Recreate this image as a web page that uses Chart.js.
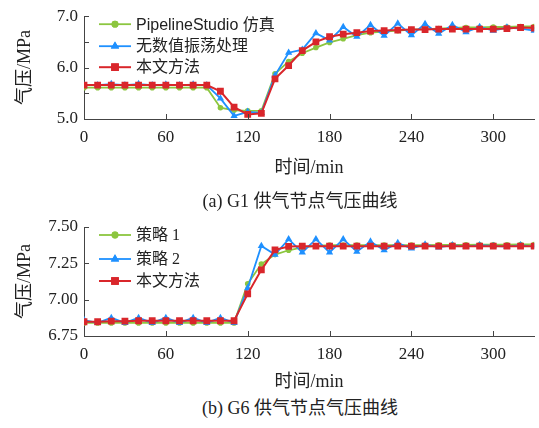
<!DOCTYPE html>
<html>
<head>
<meta charset="utf-8">
<script src="https://cdn.jsdelivr.net/npm/chart.js@4/dist/chart.umd.min.js"></script>
<style>
  html, body { margin: 0; padding: 0; background: #fff; }
  body { width: 539px; height: 428px; position: relative; overflow: hidden; }
  .wrap { position: absolute; left: 0; width: 539px; }
  .cap { position: absolute; left: 0; width: 600px; text-align: center;
         font: 18px 'Liberation Serif', 'Noto Sans CJK SC', serif; color: #222; line-height: 20px; }
</style>
</head>
<body>
<div class="wrap" style="top:0;height:182px;"><canvas id="c1" width="539" height="182"></canvas></div>
<div class="wrap" style="top:210px;height:186px;"><canvas id="c2" width="539" height="186"></canvas></div>
<div class="cap" style="top:191px;">(a) G1 供气节点气压曲线</div>
<div class="cap" style="top:398px;">(b) G6 供气节点气压曲线</div>
<script>
// ---------- data ----------
const times = [0,10,20,30,40,50,60,70,80,90,100,110,120,130,140,150,160,170,180,190,200,210,220,230,240,250,260,270,280,290,300,310,320,330];

// (a) G1
const g1Labels = ['PipelineStudio 仿真', '无数值振荡处理', '本文方法'];
const g1Pipeline = [5.61,5.61,5.61,5.61,5.61,5.61,5.61,5.61,5.61,5.61,5.22,5.17,5.16,5.16,5.88,6.12,6.28,6.39,6.49,6.56,6.63,6.68,6.70,6.72,6.74,6.75,6.76,6.77,6.78,6.78,6.79,6.79,6.80,6.80];
const g1NoOsc    = [5.66,5.66,5.68,5.66,5.68,5.66,5.67,5.66,5.67,5.66,5.40,5.06,5.14,5.12,5.85,6.29,6.35,6.67,6.53,6.79,6.60,6.83,6.62,6.86,6.63,6.85,6.66,6.83,6.69,6.79,6.72,6.78,6.76,6.72];
const g1Ours     = [5.66,5.66,5.66,5.66,5.66,5.66,5.66,5.66,5.66,5.66,5.54,5.23,5.09,5.11,5.78,6.04,6.33,6.50,6.60,6.65,6.68,6.71,6.72,6.73,6.74,6.74,6.75,6.75,6.75,6.75,6.75,6.76,6.78,6.77];

// (b) G6
const g6Labels = ['策略 1', '策略 2', '本文方法'];
const g6Strategy1 = [6.84,6.84,6.84,6.84,6.84,6.84,6.84,6.84,6.84,6.84,6.84,6.84,7.11,7.245,7.31,7.34,7.36,7.37,7.375,7.375,7.375,7.375,7.375,7.375,7.375,7.375,7.377,7.377,7.377,7.378,7.378,7.378,7.38,7.38];
const g6Strategy2 = [6.86,6.84,6.875,6.84,6.875,6.84,6.875,6.84,6.875,6.84,6.875,6.84,7.08,7.37,7.31,7.416,7.325,7.416,7.325,7.416,7.33,7.40,7.34,7.39,7.352,7.38,7.36,7.375,7.365,7.375,7.37,7.365,7.375,7.365];
const g6Ours      = [6.848,6.848,6.852,6.852,6.855,6.855,6.855,6.855,6.855,6.855,6.855,6.855,7.04,7.205,7.343,7.366,7.368,7.368,7.368,7.368,7.368,7.368,7.368,7.368,7.368,7.368,7.368,7.368,7.368,7.368,7.368,7.368,7.368,7.368];

const xTicks = [0,60,120,180,240,300];
const g1YTicks = [5.0,5.5,6.0,6.5,7.0];
const g6YTicks = [6.75,7.00,7.25,7.50];

// ---------- style ----------
const GREEN = '#8cc63f', BLUE = '#1e90ff', RED = '#d9262b', AXIS = '#444', TXT = '#222';
const SERIF = "'Liberation Serif', 'Noto Sans CJK SC', serif";
const SANS  = "'Liberation Sans', 'Noto Sans CJK SC', sans-serif";

function pts(vals) { return times.map((t, i) => ({x: t, y: vals[i]})); }

function makeDatasets(labels, a, b, c) {
  return [
    {label: labels[0], data: pts(a), borderColor: GREEN, backgroundColor: GREEN, borderWidth: 1.8,
     pointStyle: 'circle', pointRadius: 2.8, pointBorderWidth: 0, order: 2},
    {label: labels[1], data: pts(b), borderColor: BLUE, backgroundColor: BLUE, borderWidth: 1.8,
     pointStyle: 'triangle', pointRadius: 4.2, pointBorderWidth: 0, order: 1},
    {label: labels[2], data: pts(c), borderColor: RED, backgroundColor: RED, borderWidth: 2,
     pointStyle: 'rect', pointRadius: 4.8, pointBorderWidth: 0, order: 0}
  ];
}

const inwardTicks = {
  id: 'inwardTicks',
  afterDraw(chart) {
    const {ctx, chartArea: a, scales: {x, y}} = chart;
    ctx.save();
    ctx.strokeStyle = AXIS; ctx.lineWidth = 1;
    ctx.beginPath();
    x.ticks.forEach(t => { const px = Math.round(x.getPixelForValue(t.value)) + 0.5; ctx.moveTo(px, a.bottom); ctx.lineTo(px, a.bottom - 5); });
    y.ticks.forEach(t => { const py = Math.round(y.getPixelForValue(t.value)) + 0.5; ctx.moveTo(a.left, py); ctx.lineTo(a.left + 5, py); });
    ctx.stroke();
    ctx.restore();
  }
};

const lineLegend = {
  id: 'lineLegend',
  afterDraw(chart, args, opts) {
    const {ctx, chartArea: a} = chart;
    ctx.save();
    chart.data.datasets.forEach((ds, i) => {
      const yy = a.top + opts.rows[i];
      const x0 = a.left + 15, x1 = a.left + 47, xm = (x0 + x1) / 2;
      ctx.strokeStyle = ds.borderColor; ctx.lineWidth = ds.borderWidth;
      ctx.beginPath(); ctx.moveTo(x0, yy); ctx.lineTo(x1, yy); ctx.stroke();
      ctx.fillStyle = ds.backgroundColor;
      Chart.helpers.drawPoint(ctx, {pointStyle: ds.pointStyle, radius: ds.pointRadius + 0.6, borderWidth: 0}, xm, yy);
      ctx.fill();
      ctx.fillStyle = TXT;
      ctx.font = '16px ' + (opts.fonts[i] || SERIF);
      ctx.textBaseline = 'middle'; ctx.textAlign = 'left';
      ctx.fillText(ds.label, a.left + 52, yy + 1);
    });
    ctx.restore();
  }
};

function makeChart(id, datasets, yMin, yMax, yTicks, yFmt, padTop, xH, rows, fonts) {
  return new Chart(document.getElementById(id), {
    type: 'line',
    data: {datasets},
    plugins: [inwardTicks, lineLegend],
    options: {
      responsive: false, animation: false, devicePixelRatio: 1,
      layout: {padding: {top: padTop, right: 3, left: 0, bottom: 0}},
      plugins: {legend: {display: false}, tooltip: {enabled: false}, lineLegend: {rows, fonts}},
      elements: {line: {tension: 0}},
      scales: {
        x: {
          type: 'linear', min: 0, max: 330,
          afterBuildTicks: s => { s.ticks = xTicks.map(v => ({value: v})); },
          afterFit: s => { s.height = xH; },
          grid: {drawOnChartArea: false, drawTicks: false},
          border: {display: true, color: AXIS, width: 1},
          ticks: {padding: 8, color: TXT, font: {family: SERIF, size: 17}, maxRotation: 0, callback: v => String(v)},
          title: {display: true, text: '时间/min', color: TXT, font: {family: SERIF, size: 18}, padding: {top: 0, bottom: 3.4}}
        },
        y: {
          type: 'linear', min: yMin, max: yMax,
          afterBuildTicks: s => { s.ticks = yTicks.map(v => ({value: v})); },
          afterFit: s => { s.width = 84; },
          grid: {drawOnChartArea: false, drawTicks: false},
          border: {display: true, color: AXIS, width: 1},
          ticks: {padding: 6, color: TXT, font: {family: SERIF, size: 17}, callback: yFmt},
          title: {display: true, text: '气压/MPa', color: TXT, font: {family: SERIF, size: 18}, padding: {top: 14, bottom: 0}}
        }
      }
    }
  });
}

makeChart('c1', makeDatasets(g1Labels, g1Pipeline, g1NoOsc, g1Ours), 5.0, 7.0, g1YTicks,
  v => (Math.abs(v - Math.round(v)) < 1e-9 ? v.toFixed(1) : ''), 15, 63, [8, 30, 51], [SANS, SERIF, SERIF]);

makeChart('c2', makeDatasets(g6Labels, g6Strategy1, g6Strategy2, g6Ours), 6.75, 7.5, g6YTicks,
  v => v.toFixed(2), 17, 60, [8, 32, 54], [SERIF, SERIF, SERIF]);
</script>
</body>
</html>
